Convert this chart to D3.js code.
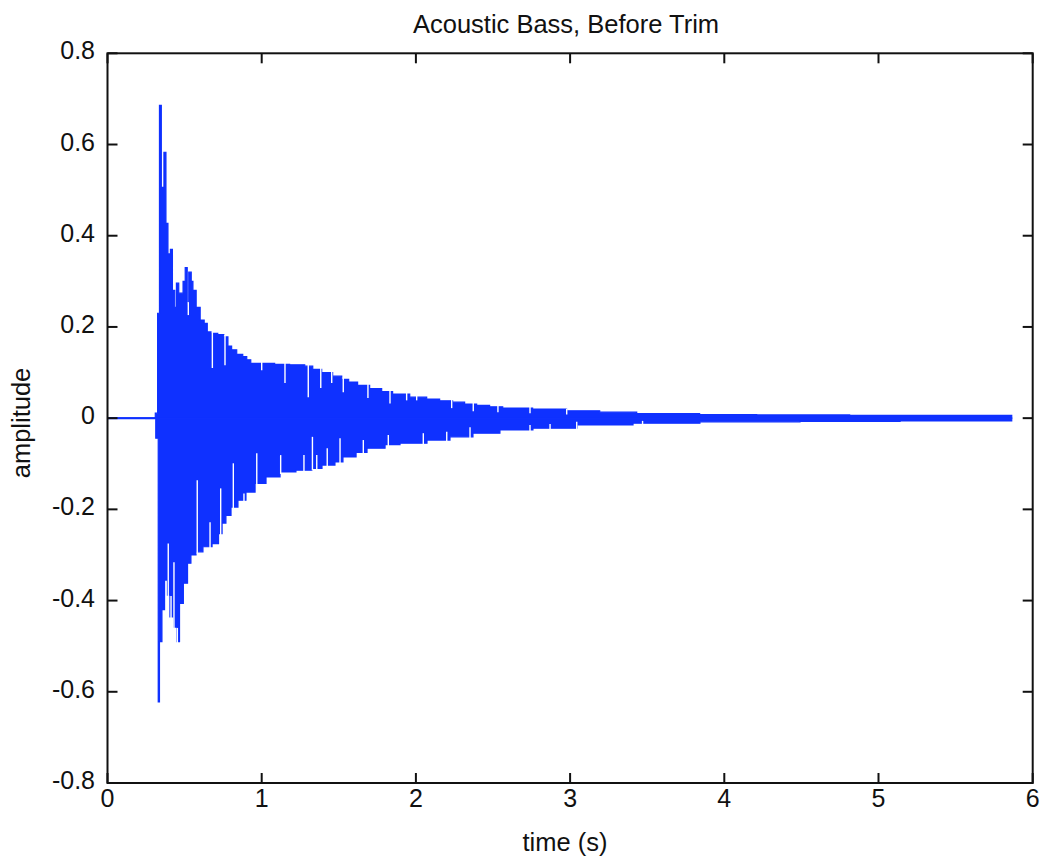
<!DOCTYPE html>
<html>
<head>
<meta charset="utf-8">
<script src="https://cdn.jsdelivr.net/npm/d3@7"></script>
<style>
  html, body { margin: 0; padding: 0; background: #fff; }
  text { font-family: "Liberation Sans", Arial, Helvetica, sans-serif; fill: #111; }
</style>
</head>
<body>
<svg id="chart" width="1040" height="863"></svg>
<script>
// ---- data ----
const titleText = "Acoustic Bass, Before Trim";
const xLabelText = "time (s)";
const yLabelText = "amplitude";
const xTicks = [0, 1, 2, 3, 4, 5, 6];
const xTickLabels = ["0", "1", "2", "3", "4", "5", "6"];
const yTicks = [0.8, 0.6, 0.4, 0.2, 0, -0.2, -0.4, -0.6, -0.8];
const yTickLabels = ["0.8", "0.6", "0.4", "0.2", "0", "-0.2", "-0.4", "-0.6", "-0.8"];

// upper envelope of the waveform (time s, amplitude)
const upperT = [0, 0.310, 0.325, 0.337, 0.349, 0.366, 0.379, 0.392, 0.408, 0.421, 0.436, 0.447, 0.462,
  0.490, 0.504, 0.517, 0.527, 0.543, 0.554, 0.575, 0.601, 0.627, 0.647, 0.672, 0.715, 0.754, 0.781,
  0.805, 0.838, 0.877, 0.903, 0.929, 0.987, 1.084, 1.181, 1.279, 1.331, 1.389, 1.460, 1.519, 1.564,
  1.622, 1.700, 1.778, 1.849, 1.960, 2.070, 2.154, 2.238, 2.316, 2.394, 2.478, 2.563, 2.757, 2.977,
  3.192, 3.432, 3.840, 4.210, 4.813, 5.462, 5.864];
const upperV = [0, 0.011, 0.23, 0.686, 0.506, 0.583, 0.427, 0.36, 0.37, 0.28, 0.243, 0.296, 0.274,
  0.30, 0.33, 0.25, 0.32, 0.30, 0.28, 0.243, 0.215, 0.208, 0.189, 0.186, 0.183, 0.178, 0.158,
  0.15, 0.14, 0.135, 0.128, 0.12, 0.12, 0.118, 0.117, 0.114, 0.107, 0.10, 0.092, 0.085, 0.079,
  0.072, 0.065, 0.058, 0.053, 0.046, 0.042, 0.038, 0.035, 0.031, 0.028, 0.025, 0.022, 0.020, 0.016,
  0.013, 0.010, 0.008, 0.007, 0.006, 0.006, 0.006];

// lower envelope of the waveform (time s, amplitude)
const lowerT = [0, 0.313, 0.329, 0.337, 0.353, 0.370, 0.389, 0.405, 0.431, 0.451, 0.467, 0.492,
  0.519, 0.541, 0.574, 0.619, 0.678, 0.720, 0.743, 0.768, 0.801, 0.846, 0.898, 0.957, 1.028, 1.119,
  1.222, 1.326, 1.391, 1.475, 1.527, 1.612, 1.683, 1.800, 1.897, 2.072, 2.221, 2.370, 2.545, 2.759,
  3.045, 3.408, 3.842, 4.491, 5.140, 5.864];
const lowerV = [0, -0.044, -0.622, -0.49, -0.42, -0.355, -0.388, -0.436, -0.458, -0.49, -0.406, -0.362,
  -0.318, -0.30, -0.293, -0.282, -0.275, -0.253, -0.23, -0.213, -0.195, -0.18, -0.162, -0.143, -0.129, -0.118,
  -0.114, -0.11, -0.103, -0.096, -0.085, -0.075, -0.066, -0.058, -0.055, -0.048, -0.041, -0.033, -0.026, -0.022,
  -0.015, -0.011, -0.008, -0.007, -0.006, -0.006];

// narrow dips inside the fill (time s, amplitude where the dip ends)
const upperDipT = [0.524, 0.680, 0.762, 1.000, 1.151, 1.302, 1.383, 1.454, 1.529, 1.689, 1.832, 1.940,
  2.005, 2.232, 2.372, 2.532, 2.740, 2.978];
const upperDipV = [0.226, 0.11, 0.116, 0.105, 0.077, 0.046, 0.066, 0.077, 0.057, 0.044, 0.032, 0.039,
  0.039, 0.022, 0.015, 0.013, 0.011, 0.008];
const lowerDipT = [0.394, 0.412, 0.431, 0.453, 0.582, 0.665, 0.734, 0.816, 0.885, 0.968, 1.123, 1.274,
  1.329, 1.357, 1.425, 1.508, 1.659, 1.821, 2.048, 2.200, 2.351, 2.740, 2.870, 3.043, 3.470];
const lowerDipV = [-0.275, -0.39, -0.316, -0.46, -0.136, -0.228, -0.154, -0.099, -0.165, -0.077, -0.081, -0.081,
  -0.041, -0.081, -0.066, -0.044, -0.048, -0.037, -0.033, -0.030, -0.020, -0.015, -0.013, -0.008, -0.006];

// ---- layout ----
const svg = d3.select("#chart");
const L = 107.5, R = 1032.7, T = 53.3, B = 783;
const blue = "#0f31ff";

const x = d3.scaleLinear().domain([0, 6]).range([L, R]);
const y = d3.scaleLinear().domain([-0.8, 0.8]).range([B, T]);

const upper = upperT.map((t, i) => [t, upperV[i]]);
const lower = lowerT.map((t, i) => [t, lowerV[i]]);

const area = d3.area()
  .x(d => x(d[0]))
  .y0(y(0))
  .y1(d => y(d[1]))
  .curve(d3.curveStepAfter);

const g = svg.append("g");

// lead-in line at zero
g.append("line")
  .attr("x1", x(0)).attr("x2", x(upperT[1]))
  .attr("y1", y(0)).attr("y2", y(0))
  .attr("stroke", blue).attr("stroke-width", 2);

[upper, lower].forEach(data => {
  g.append("path")
    .datum(data)
    .attr("d", area)
    .attr("fill", blue)
    .attr("stroke", blue)
    .attr("stroke-width", 1.2)
    .attr("stroke-linejoin", "miter");
});

function envAt(ts, vs, t) {
  let v = vs[0];
  for (let i = 0; i < ts.length; i++) { if (ts[i] <= t) v = vs[i]; else break; }
  return v;
}

upperDipT.forEach((t, i) => {
  const e = envAt(upperT, upperV, t);
  g.append("line")
    .attr("x1", x(t)).attr("x2", x(t))
    .attr("y1", y(e) - 2).attr("y2", y(upperDipV[i]))
    .attr("stroke", "#fff").attr("stroke-width", 1.4);
});
lowerDipT.forEach((t, i) => {
  const e = envAt(lowerT, lowerV, t);
  g.append("line")
    .attr("x1", x(t)).attr("x2", x(t))
    .attr("y1", y(e) + 2).attr("y2", y(lowerDipV[i]))
    .attr("stroke", "#fff").attr("stroke-width", 1.4);
});

// ---- axes box with inward ticks ----
const axisColor = "#111";
svg.append("rect")
  .attr("x", L).attr("y", T).attr("width", R - L).attr("height", B - T)
  .attr("fill", "none").attr("stroke", axisColor).attr("stroke-width", 2);

const tickLen = 10;
const ax = svg.append("g");
xTicks.forEach(t => {
  ax.append("line").attr("x1", x(t)).attr("x2", x(t)).attr("y1", B).attr("y2", B - tickLen)
    .attr("stroke", axisColor).attr("stroke-width", 2);
  ax.append("line").attr("x1", x(t)).attr("x2", x(t)).attr("y1", T).attr("y2", T + tickLen)
    .attr("stroke", axisColor).attr("stroke-width", 2);
});
yTicks.forEach(v => {
  ax.append("line").attr("x1", L).attr("x2", L + tickLen).attr("y1", y(v)).attr("y2", y(v))
    .attr("stroke", axisColor).attr("stroke-width", 2);
  ax.append("line").attr("x1", R).attr("x2", R - tickLen).attr("y1", y(v)).attr("y2", y(v))
    .attr("stroke", axisColor).attr("stroke-width", 2);
});

// tick labels
xTicks.forEach((t, i) => {
  svg.append("text")
    .attr("x", x(t)).attr("y", 807)
    .attr("text-anchor", "middle")
    .attr("font-size", 25)
    .text(xTickLabels[i]);
});
yTicks.forEach((v, i) => {
  svg.append("text")
    .attr("x", 95).attr("y", y(v) + 6)
    .attr("text-anchor", "end")
    .attr("font-size", 25)
    .text(yTickLabels[i]);
});

// title and axis labels
svg.append("text")
  .attr("x", 566).attr("y", 33)
  .attr("text-anchor", "middle")
  .attr("font-size", 25.5)
  .text(titleText);

svg.append("text")
  .attr("x", 565).attr("y", 851)
  .attr("text-anchor", "middle")
  .attr("font-size", 25.5)
  .text(xLabelText);

svg.append("text")
  .attr("transform", "translate(30,423) rotate(-90)")
  .attr("text-anchor", "middle")
  .attr("font-size", 25.5)
  .text(yLabelText);
</script>
</body>
</html>
